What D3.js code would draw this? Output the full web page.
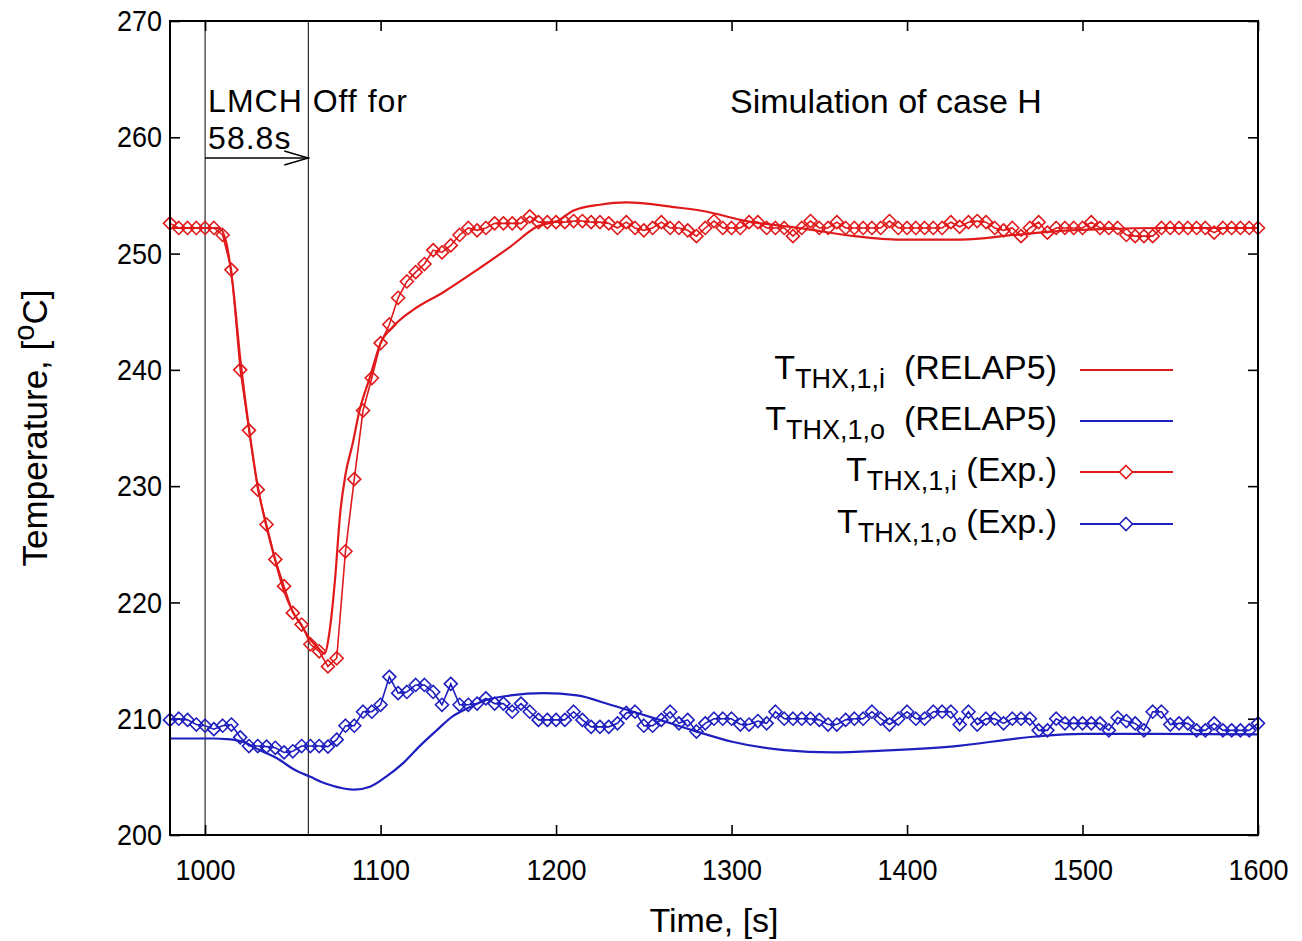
<!DOCTYPE html>
<html>
<head>
<meta charset="utf-8">
<script src="https://cdn.jsdelivr.net/npm/d3@7"></script>
<style>
  body { margin: 0; background: #fff; }
  svg text { font-family: "Liberation Sans", Arial, Helvetica, sans-serif; fill: #000; white-space: pre; }
</style>
</head>
<body>
<div id="chart"></div>
<script>
// sampling of the measured data (s)
const expStart = 980;
const expStep = 5;

const expInlet = [
  252.6, 252.2, 252.2, 252.2, 252.2, 252.2, 251.6, 248.6, 240.0, 234.8,
  229.7, 226.7, 223.7, 221.4, 219.1, 218.1, 216.4, 215.8, 214.5, 215.2,
  224.4, 230.6, 236.5, 239.3, 242.3, 243.9, 246.2, 247.6, 248.4, 249.1,
  250.3, 250.1, 250.7, 251.6, 252.2, 252.0, 252.2, 252.6, 252.6, 252.6,
  252.6, 253.2, 252.7, 252.7, 252.7, 252.7, 252.8, 252.8, 252.7, 252.7,
  252.6, 252.2, 252.7, 252.2, 252.0, 252.2, 252.7, 252.2, 252.2, 252.0,
  251.5, 252.2, 252.8, 252.2, 252.2, 252.2, 252.7, 252.7, 252.2, 252.2,
  252.2, 251.5, 252.2, 252.8, 252.2, 252.2, 252.7, 252.2, 252.2, 252.2,
  252.2, 252.2, 252.8, 252.2, 252.2, 252.2, 252.2, 252.2, 252.2, 252.7,
  252.3, 252.7, 252.8, 252.7, 252.2, 252.0, 252.2, 251.5, 252.2, 252.7,
  251.8, 252.2, 252.2, 252.2, 252.2, 252.7, 252.2, 252.2, 252.2, 251.6,
  251.5, 251.5, 251.5, 252.2, 252.2, 252.2, 252.2, 252.2, 252.2, 251.8,
  252.2, 252.2, 252.2, 252.2, 252.2
];

const expOutlet = [
  209.9, 210.0, 209.9, 209.5, 209.4, 209.1, 209.4, 209.5, 208.4, 207.65,
  207.65, 207.6, 207.5, 207.1, 207.2, 207.65, 207.65, 207.65, 207.6, 208.2,
  209.4, 209.4, 210.6, 210.6, 211.2, 213.6, 212.2, 212.3, 212.9, 212.9,
  212.3, 211.2, 213.0, 211.2, 211.2, 211.3, 211.75, 211.3, 211.3, 210.6,
  211.3, 210.6, 209.9, 209.9, 209.9, 209.9, 210.6, 209.9, 209.3, 209.3,
  209.3, 209.6, 210.5, 210.6, 209.4, 209.4, 209.9, 210.6, 209.6, 209.9,
  208.9, 209.6, 210.0, 210.0, 210.0, 209.5, 209.5, 209.8, 209.6, 210.6,
  210.0, 210.0, 210.0, 210.0, 209.9, 209.5, 209.5, 209.9, 210.0, 210.0,
  210.6, 210.0, 209.5, 210.0, 210.6, 210.0, 210.0, 210.6, 210.6, 210.6,
  209.5, 210.6, 209.5, 210.0, 210.0, 209.6, 210.0, 210.0, 210.0, 209.0,
  209.0, 210.0, 209.6, 209.6, 209.6, 209.6, 209.6, 209.0, 210.1, 209.8,
  209.6, 209.0, 210.6, 210.6, 209.5, 209.6, 209.6, 209.0, 209.0, 209.6,
  209.0, 209.0, 209.0, 209.0, 209.6
];

// RELAP5 results
const relapInletTime = [980, 1000, 1008, 1012, 1016, 1020, 1025, 1030, 1035, 1040, 1045, 1050, 1055, 1060, 1065, 1068,
  1071, 1074, 1077, 1080, 1084, 1088, 1094, 1100, 1107, 1118, 1136, 1155, 1174, 1189, 1202, 1210, 1225, 1240,
  1267, 1286, 1305, 1343, 1370, 1396, 1431, 1461, 1488, 1511, 1545, 1600];
const relapInlet = [252.2, 252.2, 252.2, 251.0, 247.0, 241.0, 235.0, 230.0, 226.5, 223.6, 221.0, 219.2, 218.0, 216.8, 216.0, 215.6,
  217.6, 221.9, 227.7, 231.0, 233.6, 236.5, 239.4, 242.3, 243.7, 245.1, 246.7, 248.6, 250.6, 252.3, 252.9, 253.7, 254.2, 254.4,
  254.0, 253.6, 252.9, 252.1, 251.5, 251.2, 251.2, 251.6, 251.95, 252.1, 252.2, 252.2];

const relapOutletTime = [980, 1005, 1012, 1022, 1031, 1041, 1050, 1060, 1069, 1079, 1085, 1094, 1103, 1113, 1122, 1132, 1141,
  1151, 1160, 1174, 1193, 1212, 1231, 1244, 1259, 1278, 1301, 1330, 1358, 1386, 1425, 1472, 1500, 1540, 1600];
const relapOutlet = [208.3, 208.3, 208.25, 208.0, 207.3, 206.6, 205.7, 205.0, 204.4, 204.0, 203.9, 204.15, 205.0, 206.2, 207.6, 209.0, 210.2,
  211.0, 211.6, 212.0, 212.2, 212.0, 211.2, 210.6, 209.9, 209.0, 208.0, 207.3, 207.1, 207.25, 207.6, 208.45, 208.7, 208.7, 208.65];

const xTicks = [1000, 1100, 1200, 1300, 1400, 1500, 1600];
const yTicks = [200, 210, 220, 230, 240, 250, 260, 270];

const pumpOffStart = 1000;
const pumpOffDuration = 58.8;

const legendItems = [
  { sub: 'THX,1,i', tail: '  (RELAP5)', color: '#e0191b', marker: false },
  { sub: 'THX,1,o', tail: '  (RELAP5)', color: '#1f1fbf', marker: false },
  { sub: 'THX,1,i', tail: ' (Exp.)', color: '#e0191b', marker: true },
  { sub: 'THX,1,o', tail: ' (Exp.)', color: '#1f1fbf', marker: true }
];

const red = '#e0191b';
const blue = '#1f1fbf';

const width = 1302, height = 941;
const margin = { top: 21, right: 44, bottom: 106, left: 170 };

const svg = d3.select('#chart').append('svg')
  .attr('width', width).attr('height', height)
  .attr('viewBox', `0 0 ${width} ${height}`);

const x = d3.scaleLinear([980, 1600], [margin.left, width - margin.right]);
const y = d3.scaleLinear([200, 270], [height - margin.bottom, margin.top]);

const fs = 34;      // titles, annotations, legend
const tickFs = 30;  // tick labels (drawn slightly condensed)
const squeeze = 0.9;

// axes with inward ticks on all four sides
svg.append('g').attr('transform', `translate(0,${y(200)})`)
  .call(d3.axisBottom(x).tickValues(xTicks).tickSize(-10).tickPadding(24).tickFormat(d3.format('d')))
  .selectAll('.tick text').attr('transform', `scale(${squeeze},1)`);
svg.append('g').attr('transform', `translate(${x(980)},0)`)
  .call(d3.axisLeft(y).tickValues(yTicks).tickSize(-10).tickPadding(8))
  .selectAll('.tick text').attr('x', -8 / squeeze).attr('transform', `scale(${squeeze},1)`);
svg.append('g').attr('transform', `translate(0,${y(270)})`)
  .call(d3.axisTop(x).tickValues(xTicks).tickSize(-10).tickFormat(''));
svg.append('g').attr('transform', `translate(${x(1600)},0)`)
  .call(d3.axisRight(y).tickValues(yTicks).tickSize(-10).tickFormat(''));
svg.selectAll('.domain').remove();
svg.selectAll('.tick line').attr('stroke', '#000').attr('stroke-width', 1.6);
svg.selectAll('.tick text').attr('font-size', tickFs).attr('font-family', '"Liberation Sans", Arial, sans-serif');

// event lines
const offEnd = pumpOffStart + pumpOffDuration;
[pumpOffStart, offEnd].forEach(t => {
  svg.append('line').attr('x1', x(t)).attr('x2', x(t)).attr('y1', y(270)).attr('y2', y(200))
    .attr('stroke', '#000').attr('stroke-width', 1);
});
const ay = 158;
svg.append('line').attr('x1', x(pumpOffStart)).attr('x2', x(offEnd)).attr('y1', ay).attr('y2', ay)
  .attr('stroke', '#000').attr('stroke-width', 1.4);
svg.append('path')
  .attr('d', `M${x(offEnd) - 24},${ay - 7}L${x(offEnd)},${ay}L${x(offEnd) - 24},${ay + 7}`)
  .attr('fill', 'none').attr('stroke', '#000').attr('stroke-width', 1.4);

svg.append('text').attr('x', x(pumpOffStart) + 3).attr('y', 112).attr('font-size', 32)
  .attr('letter-spacing', 1).text('LMCH Off for');
svg.append('text').attr('x', x(pumpOffStart) + 3).attr('y', 149).attr('font-size', 32)
  .attr('letter-spacing', 1).text(pumpOffDuration + 's');
svg.append('text').attr('x', 730).attr('y', 113).attr('font-size', fs).text('Simulation of case H');

// series
const toPts = (ts, vs) => vs.map((v, i) => ({ t: ts[i], v }));
const expPts = vs => vs.map((v, i) => ({ t: expStart + i * expStep, v }));

const smooth = d3.line().x(d => x(d.t)).y(d => y(d.v)).curve(d3.curveMonotoneX);
const straight = d3.line().x(d => x(d.t)).y(d => y(d.v));

const plot = svg.append('g');
const diamond = (g, pts, color) => {
  g.selectAll(null).data(pts).join('path')
    .attr('d', d => `M${x(d.t)},${y(d.v) - 6.5}l6.5,6.5l-6.5,6.5l-6.5,-6.5z`)
    .attr('fill', 'none').attr('stroke', color).attr('stroke-width', 1.6);
};

const inE = expPts(expInlet), outE = expPts(expOutlet);
plot.append('path').datum(inE).attr('d', straight).attr('fill', 'none').attr('stroke', red).attr('stroke-width', 1.6);
diamond(plot.append('g'), inE, red);
plot.append('path').datum(outE).attr('d', straight).attr('fill', 'none').attr('stroke', blue).attr('stroke-width', 1.6);
diamond(plot.append('g'), outE, blue);

plot.append('path').datum(toPts(relapInletTime, relapInlet)).attr('d', smooth)
  .attr('fill', 'none').attr('stroke', red).attr('stroke-width', 2.2);
plot.append('path').datum(toPts(relapOutletTime, relapOutlet)).attr('d', smooth)
  .attr('fill', 'none').attr('stroke', blue).attr('stroke-width', 2.2);

// frame
svg.append('rect').attr('x', x(980)).attr('y', y(270)).attr('width', x(1600) - x(980)).attr('height', y(200) - y(270))
  .attr('fill', 'none').attr('stroke', '#000').attr('stroke-width', 2);

// legend
const leg = svg.append('g');
const rowY = [370, 421, 472, 524];
legendItems.forEach((d, i) => {
  const ty = rowY[i] + 9;
  const t = leg.append('text').attr('x', 1057).attr('y', ty).attr('text-anchor', 'end').attr('font-size', fs);
  t.append('tspan').text('T');
  t.append('tspan').attr('dy', 9).attr('font-size', 27).text(d.sub);
  t.append('tspan').attr('dy', -9).text(d.tail);
  leg.append('line').attr('x1', 1080).attr('x2', 1173).attr('y1', rowY[i]).attr('y2', rowY[i])
    .attr('stroke', d.color).attr('stroke-width', 1.8);
  if (d.marker) {
    leg.append('path').attr('d', `M1126,${rowY[i] - 6.5}l6.5,6.5l-6.5,6.5l-6.5,-6.5z`)
      .attr('fill', '#fff').attr('stroke', d.color).attr('stroke-width', 1.6);
  }
});

// axis titles
svg.append('text').attr('x', (x(980) + x(1600)) / 2).attr('y', 932).attr('text-anchor', 'middle')
  .attr('font-size', fs).text('Time, [s]');
const yt = svg.append('text').attr('transform', `translate(47,${(y(200) + y(270)) / 2}) rotate(-90)`)
  .attr('text-anchor', 'middle').attr('font-size', fs + 1);
yt.append('tspan').text('Temperature, [');
yt.append('tspan').attr('dy', -13).attr('font-size', 29).text('o');
yt.append('tspan').attr('dy', 13).text('C]');
</script>
</body>
</html>
